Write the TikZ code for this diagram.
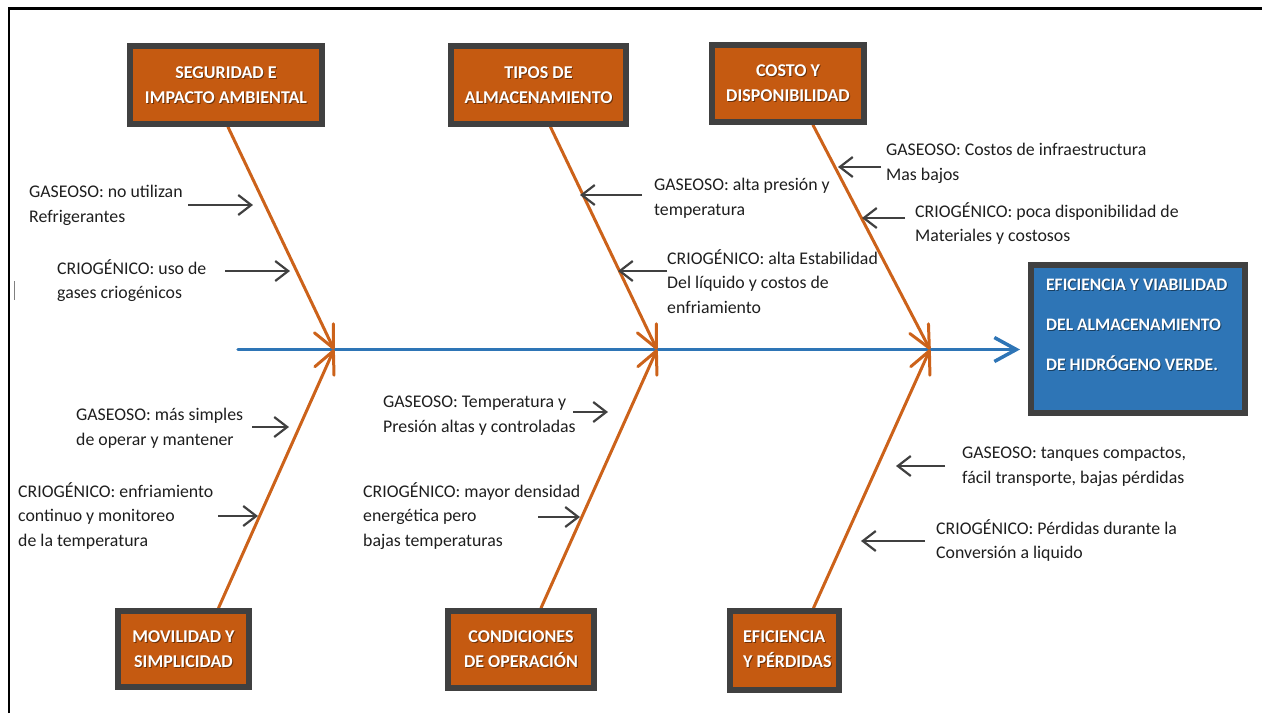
\documentclass[tikz,border=0pt]{standalone}
\usepackage{fontspec}
\setmainfont{Carlito}
\usetikzlibrary{arrows.meta,backgrounds,calc}
\definecolor{causeor}{RGB}{197,90,17}
\definecolor{boneor}{RGB}{204,98,26}
\definecolor{effblue}{RGB}{46,117,182}
\definecolor{frameg}{RGB}{64,64,64}
\definecolor{ink}{RGB}{30,30,30}

\tikzset{
  causebox/.style={draw=frameg, line width=6pt, fill=causeor, inner sep=0pt},
  effectbox/.style={draw=frameg, line width=6pt, fill=effblue, inner sep=0pt},
  boxtxt/.style={text=white, font=\bfseries\fontsize{18}{25}\selectfont, inner sep=0pt},
  boxsh/.style={boxtxt, text=black, opacity=0.45},
  bone/.style={draw=boneor, line width=3pt, line cap=round, line join=round,
    -{Straight Barb[length=22pt,width=21pt,round]}},
  spine/.style={draw=effblue, line width=3.5pt, line cap=round,
    -{Straight Barb[length=22pt,width=24pt]}},
  cue/.style={draw=frameg, line width=2.2pt,
    -{Straight Barb[length=13pt,width=20pt]}},
  lbl/.style={anchor=north west, align=left, inner sep=0pt, text=ink,
    font=\fontsize{17.8}{24.5}\selectfont,
    execute at begin node={\rule{0pt}{17pt}}},
}

% shadowed white caption inside a box
\newcommand\boxlabel[4]{%
  \node[boxsh,#3] (#1sh) at ([xshift=1pt,yshift=-1pt]#2) {#4};
  \node[boxtxt,#3] (#1t) at (#2) {#4};}

\begin{document}
\begin{tikzpicture}[x=1pt,y=-1pt]
\useasboundingbox (0,0) rectangle (1262,713);

% page frame
\draw[black, line width=2.2pt] (9.3,713) -- (9.3,8.5) -- (1262,8.5);
\draw[gray, line width=0.8pt] (14,281) -- (14,300);

% cause boxes
\node[causebox, minimum width=192, minimum height=78] (s1) at (226,85) {};
\node[causebox, minimum width=175, minimum height=78] (s2) at (538.5,85) {};
\node[causebox, minimum width=152, minimum height=77] (s3) at (788,83.5) {};
\node[causebox, minimum width=131, minimum height=76] (b1) at (183.5,649) {};
\node[causebox, minimum width=146, minimum height=77] (b2) at (521,649.5) {};
\node[causebox, minimum width=109, minimum height=79] (b3) at (784.5,650.5) {};
% effect box
\node[effectbox, minimum width=214, minimum height=148] (eff) at (1138,339) {};

\coordinate (b3c) at (743,649.5);
\coordinate (effc) at (1046,325);

\boxlabel{s1}{s1.center}{align=center}{SEGURIDAD E\\IMPACTO AMBIENTAL}
\boxlabel{s2}{s2.center}{align=center}{TIPOS DE\\ALMACENAMIENTO}
\boxlabel{s3}{s3.center}{align=center}{COSTO Y\\DISPONIBILIDAD}
\boxlabel{b1}{b1.center}{align=center}{MOVILIDAD Y\\SIMPLICIDAD}
\boxlabel{b2}{b2.center}{align=center}{CONDICIONES\\DE OPERACIÓN}
\boxlabel{b3}{b3c}{anchor=west,align=left}{EFICIENCIA\\Y PÉRDIDAS}
\boxlabel{eff}{effc}{anchor=west,align=left,font=\bfseries\fontsize{17.5}{40}\selectfont}{EFICIENCIA Y VIABILIDAD\\DEL ALMACENAMIENTO\\DE HIDRÓGENO VERDE.}

% spine and its junctions
\coordinate (tail) at (238,349.5);
\coordinate (head) at ($(eff.west |- tail)+(-8,0)$);
\coordinate (j1) at (334,349.5);
\coordinate (j2) at (657,349.5);
\coordinate (j3) at (930,349.5);

\begin{scope}[on background layer]
  \draw[spine] (tail) -- (head);
  \draw[bone] ([xshift=2pt]s1.south) -- (j1);
  \draw[bone] ([xshift=12pt]s2.south) -- (j2);
  \draw[bone] ([xshift=25pt]s3.south) -- (j3);
  \draw[bone] ([xshift=35pt]b1.north) -- (j1);
  \draw[bone] ([xshift=20pt]b2.north) -- (j2);
  \draw[bone] ([xshift=29pt]b3.north) -- (j3);
\end{scope}

% sub-cause labels
\node[lbl] (la1) at (29,185) {GASEOSO: no utilizan\\Refrigerantes};
\node[lbl] (la2) at (57,259) {CRIOGÉNICO: uso de\\gases criogénicos};
\node[lbl] (lb1) at (654,178) {GASEOSO: alta presión y\\temperatura};
\node[lbl] (lb2) at (667,249) {CRIOGÉNICO: alta Estabilidad\\Del líquido y costos de\\enfriamiento};
\node[lbl] (lc1) at (886,143) {GASEOSO: Costos de infraestructura\\Mas bajos};
\node[lbl] (lc2) at (915,202) {CRIOGÉNICO: poca disponibilidad de\\Materiales y costosos};
\node[lbl] (ld1) at (76,408) {GASEOSO: más simples\\de operar y mantener};
\node[lbl] (ld2) at (18,482) {CRIOGÉNICO: enfriamiento\\continuo y monitoreo\\de la temperatura};
\node[lbl] (le1) at (383,396) {GASEOSO: Temperatura y\\Presión altas y controladas};
\node[lbl] (le2) at (363,482) {CRIOGÉNICO: mayor densidad\\energética pero\\bajas temperaturas};
\node[lbl] (lf1) at (962,447) {GASEOSO: tanques compactos,\\fácil transporte, bajas pérdidas};
\node[lbl] (lf2) at (936,519) {CRIOGÉNICO: Pérdidas durante la\\Conversión a liquido};

% pointer arrows onto the bones
\coordinate (a1s) at (188,205);   \coordinate (a1e) at (253,205);
\coordinate (a2s) at (225,271);   \coordinate (a2e) at (290,271);
\coordinate (b1s) at (642,195);   \coordinate (b1e) at (580,195);
\coordinate (b2s) at (667,271);   \coordinate (b2e) at (618,271);
\coordinate (c1s) at (881,167);   \coordinate (c1e) at (838,167);
\coordinate (c2s) at (905,218);   \coordinate (c2e) at (862,218);
\coordinate (d1s) at (252,427);   \coordinate (d1e) at (289,427);
\coordinate (d2s) at (218,516);   \coordinate (d2e) at (258,516);
\coordinate (e1s) at (573,412);   \coordinate (e1e) at (608,412);
\coordinate (e2s) at (538,517);   \coordinate (e2e) at (580,517);
\coordinate (f1s) at (945,466);   \coordinate (f1e) at (896,466);
\coordinate (f2s) at (925,541);   \coordinate (f2e) at (861,541);
\foreach \p in {a1,a2,b1,b2,c1,c2,d1,d2,e1,e2,f1,f2}
  \draw[cue] (\p s) -- (\p e);
\end{tikzpicture}
\end{document}
